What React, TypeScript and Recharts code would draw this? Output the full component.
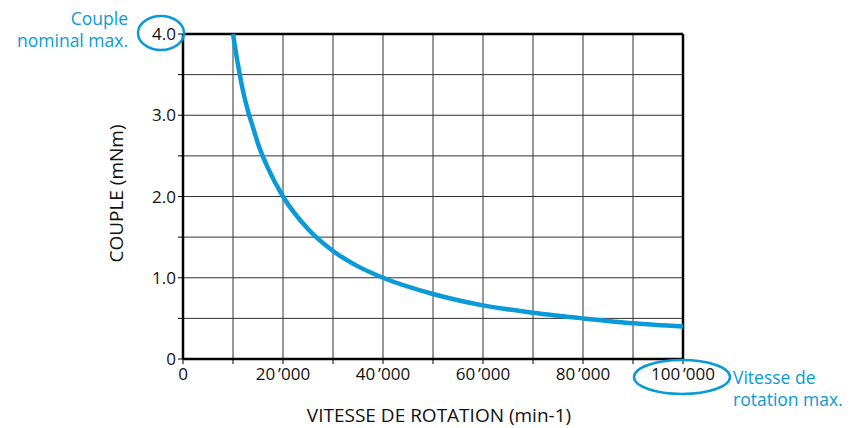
import { LineChart, Line, CartesianGrid, XAxis, YAxis, ReferenceLine } from "recharts";

// values
const speeds = [10000, 11000, 12000, 13000, 14000, 15000, 17000, 20000, 25000, 30000, 35000, 40000, 50000, 60000, 70000, 80000, 90000, 100000];
const torques = [4.0, 3.62, 3.3, 3.05, 2.85, 2.65, 2.35, 2.0, 1.6, 1.33, 1.14, 1.0, 0.8, 0.66, 0.57, 0.5, 0.44, 0.4];

const xTicks = [0, 10000, 20000, 30000, 40000, 50000, 60000, 70000, 80000, 90000, 100000];
const yTicks = [0, 0.5, 1, 1.5, 2, 2.5, 3, 3.5, 4];

const BLUE = "#0a9ad8";
const FONT = "'Open Sans', sans-serif";

const chartData = speeds.map((s, i) => ({ speed: s, torque: torques[i] }));

const fmtX = (v: number) => {
  if (v === 0) return "0";
  if (v % 20000 !== 0) return "";
  return `${v / 1000}\u2009\u2019000`;
};

const fmtY = (v: number) => {
  if (v === 0) return "0";
  if (v % 1 !== 0) return "";
  return v.toFixed(1);
};

export default function App() {
  return (
    <div style={{ position: "absolute", left: 0, top: 0, width: 864, height: 428, fontFamily: FONT }}>
      <LineChart width={864} height={428} data={chartData} margin={{ top: 34, right: 181, bottom: 39, left: 143 }}>
        <CartesianGrid stroke="#333" strokeWidth={1} />
        <XAxis
          type="number"
          dataKey="speed"
          domain={[0, 100000]}
          ticks={xTicks}
          tickFormatter={fmtX}
          interval={0}
          height={30}
          tickSize={5}
          tickLine={{ stroke: "#000" }}
          axisLine={{ stroke: "#000", strokeWidth: 2.5 }}
          tick={{ fill: "#111", fontSize: 17, fontFamily: FONT, dy: 2 }}
          label={{ value: "VITESSE DE ROTATION (min-1)", position: "insideBottom", offset: -33, dx: 6, fill: "#111", fontSize: 19, fontFamily: FONT }}
        />
        <YAxis
          type="number"
          domain={[0, 4]}
          ticks={yTicks}
          tickFormatter={fmtY}
          interval={0}
          width={40}
          tickSize={5}
          tickLine={{ stroke: "#000" }}
          axisLine={{ stroke: "#000", strokeWidth: 2.5 }}
          tick={{ fill: "#111", fontSize: 17, fontFamily: FONT }}
          label={{ value: "COUPLE (mNm)", angle: -90, position: "insideLeft", offset: -27, dy: -3, fill: "#111", fontSize: 19, fontFamily: FONT, style: { textAnchor: "middle" } }}
        />
        <ReferenceLine y={4} stroke="#000" strokeWidth={2.5} />
        <ReferenceLine x={100000} stroke="#000" strokeWidth={2.5} />
        <Line type="monotone" dataKey="torque" stroke={BLUE} strokeWidth={4.5} dot={false} isAnimationActive={false} />
      </LineChart>
      <svg width={864} height={428} style={{ position: "absolute", left: 0, top: 0, pointerEvents: "none" }}>
        <g fill={BLUE} fontFamily={FONT} fontSize={17.5}>
          <text x={128} y={25} textAnchor="end">Couple</text>
          <text x={128} y={47} textAnchor="end">nominal max.</text>
          <text x={733} y={384}>Vitesse de</text>
          <text x={733} y={406}>rotation max.</text>
        </g>
        <ellipse cx={161} cy={33} rx={23} ry={17} fill="none" stroke={BLUE} strokeWidth={2.5} />
        <ellipse cx={682} cy={377} rx={48} ry={17} fill="none" stroke={BLUE} strokeWidth={2.5} />
      </svg>
    </div>
  );
}
